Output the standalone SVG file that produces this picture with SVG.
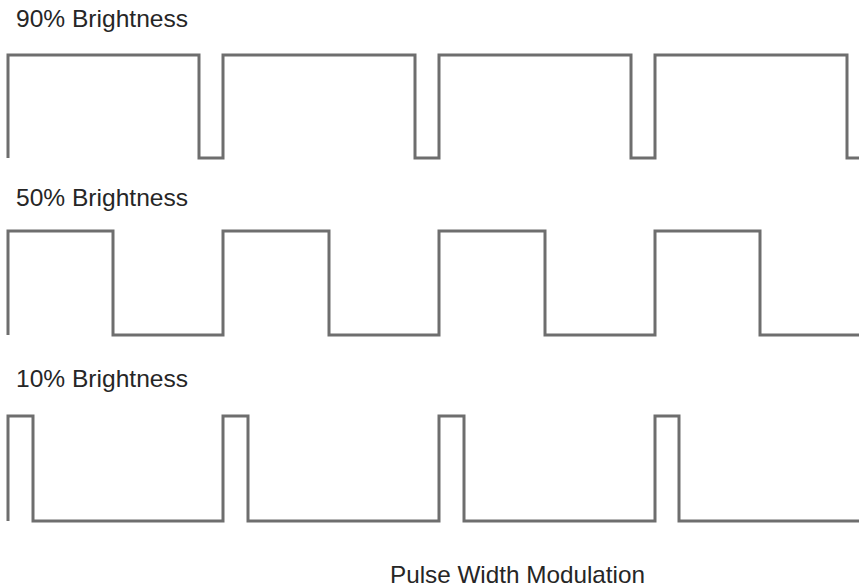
<svg xmlns="http://www.w3.org/2000/svg" width="859" height="588" viewBox="0 0 859 588">
<style>
.w{fill:none;stroke:#6e6e6e;stroke-width:3;stroke-linejoin:miter;stroke-linecap:butt}
.t{font-family:"Liberation Sans",Arial,sans-serif;font-size:24px;fill:#262626}
</style>
<rect width="859" height="588" fill="#ffffff"/>
<g id="label-90">
<text class="t" x="16" y="27" textLength="172" lengthAdjust="spacingAndGlyphs">90% Brightness</text>
</g>
<g id="wave-90">
<path class="w" d="M8,158 V55 H199 V158 H223 V55 H415 V158 H439 V55 H631 V158 H655 V55 H847 V158 H859"/>
</g>
<g id="label-50">
<text class="t" x="16" y="206" textLength="172" lengthAdjust="spacingAndGlyphs">50% Brightness</text>
</g>
<g id="wave-50">
<path class="w" d="M8,335 V231 H113 V335 H223 V231 H329 V335 H439 V231 H545 V335 H655 V231 H760 V335 H859"/>
</g>
<g id="label-10">
<text class="t" x="16" y="387" textLength="172" lengthAdjust="spacingAndGlyphs">10% Brightness</text>
</g>
<g id="wave-10">
<path class="w" d="M8,521 V416 H33 V521 H223 V416 H248 V521 H439 V416 H464 V521 H655 V416 H679 V521 H859"/>
</g>
<g id="title">
<text class="t" x="390" y="583" textLength="255" lengthAdjust="spacingAndGlyphs">Pulse Width Modulation</text>
</g>
</svg>
